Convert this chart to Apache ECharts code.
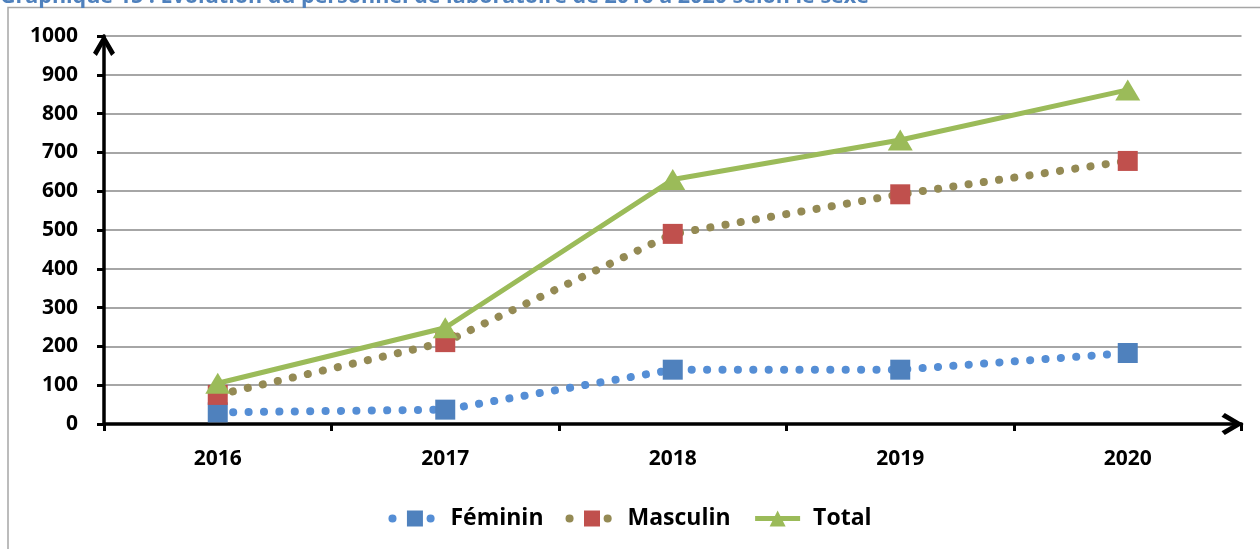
<!DOCTYPE html>
<html>
<head>
<meta charset="utf-8">
<script src="https://cdn.jsdelivr.net/npm/echarts@6/dist/echarts.min.js"></script>
<style>
html,body{margin:0;padding:0;background:#fff;}
#chart{width:1260px;height:549px;}
</style>
</head>
<body>
<div id="chart"></div>
<script>
const titleText = "Graphique 15 : Evolution du personnel de laboratoire de 2016 à 2020 selon le sexe";
const categories = ["2016", "2017", "2018", "2019", "2020"];
const feminin = [30, 37, 140, 140, 183];
const masculin = [75, 211, 490, 592, 678];
const total = [105, 248, 630, 732, 861];
const seriesNames = ["Féminin", "Masculin", "Total"];

const FONT = "'Open Sans', 'DejaVu Sans', sans-serif";
const chevron = 'path://M0,17 L10,0 L20,17 L16.5,20 L10,8.5 L3.5,20 Z';
const dotted = [0.1, 15.3];
const legendDotted = [0.1, 38];

const chart = echarts.init(document.getElementById('chart'), null, {renderer: 'canvas'});
chart.setOption({
  animation: false,
  backgroundColor: '#fff',
  title: {
    text: titleText,
    left: 0,
    top: -14,
    padding: 0,
    textStyle: {color: '#4F81BD', fontFamily: FONT, fontWeight: 'bold', fontSize: 21.5}
  },
  graphic: [{
    type: 'rect',
    shape: {x: 8, y: 7.5, width: 1300, height: 600},
    style: {fill: 'none', stroke: '#a6a6a6', lineWidth: 1.5},
    silent: true,
    z: -1
  }],
  grid: {left: 104, right: 18.5, top: 36, bottom: 125, containLabel: false},
  legend: {
    data: [
      {name: seriesNames[0], lineStyle: {width: 8, type: legendDotted, cap: 'round'}},
      {name: seriesNames[1], lineStyle: {width: 8, type: legendDotted, cap: 'round'}},
      {name: seriesNames[2], lineStyle: {width: 5}}
    ],
    left: 'center',
    top: 502,
    itemWidth: 45,
    itemHeight: 20,
    itemGap: 22,
    textStyle: {fontFamily: FONT, fontWeight: 'bold', fontSize: 23, color: '#000', padding: [0, 0, 0, 8]}
  },
  xAxis: {
    type: 'category',
    data: categories,
    boundaryGap: true,
    axisLine: {
      show: true,
      lineStyle: {color: '#000', width: 3.5},
      symbol: ['none', chevron],
      symbolSize: [22, 22],
      symbolOffset: [0, -9]
    },
    axisTick: {show: true, length: 7, inside: false, lineStyle: {color: '#000', width: 3}, alignWithLabel: false},
    axisLabel: {margin: 25, fontFamily: FONT, fontWeight: 'bold', fontSize: 21, color: '#000'},
    splitLine: {show: false}
  },
  yAxis: {
    type: 'value',
    min: 0,
    max: 1000,
    interval: 100,
    axisLine: {
      show: true,
      lineStyle: {color: '#000', width: 3.5},
      symbol: ['none', chevron],
      symbolSize: [22, 22],
      symbolOffset: [0, -9]
    },
    axisTick: {show: true, length: 7, lineStyle: {color: '#000', width: 3}},
    axisLabel: {margin: 26, fontFamily: FONT, fontWeight: 'bold', fontSize: 21, color: '#000',
      formatter: function (v) { return String(v); }},
    splitLine: {show: true, lineStyle: {color: '#898989', width: 1.5}}
  },
  series: [
    {
      name: seriesNames[0],
      type: 'line',
      data: feminin,
      symbol: 'rect',
      symbolSize: 20,
      itemStyle: {color: '#4F81BD'},
      lineStyle: {color: '#558ED5', width: 8, type: dotted, cap: 'round'},
      z: 3
    },
    {
      name: seriesNames[1],
      type: 'line',
      data: masculin,
      symbol: 'rect',
      symbolSize: 20,
      itemStyle: {color: '#C0504D'},
      lineStyle: {color: '#948A54', width: 8, type: dotted, cap: 'round'},
      z: 4
    },
    {
      name: seriesNames[2],
      type: 'line',
      data: total,
      symbol: 'triangle',
      symbolSize: [25, 21],
      itemStyle: {color: '#9BBB59'},
      lineStyle: {color: '#9BBB59', width: 5},
      z: 5
    }
  ]
});
</script>
</body>
</html>
